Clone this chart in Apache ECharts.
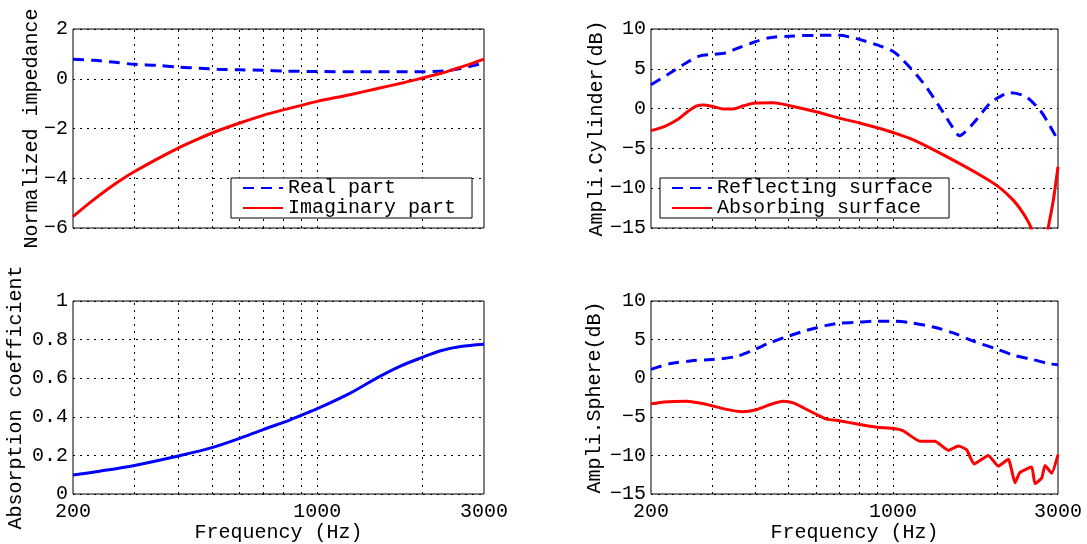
<!DOCTYPE html>
<html>
<head>
<meta charset="utf-8">
<script src="https://cdn.jsdelivr.net/npm/echarts@6/dist/echarts.min.js"></script>
<style>
  html, body { margin: 0; padding: 0; background: #fff; }
  #chart { width: 1087px; height: 544px; }
</style>
</head>
<body>
<div id="chart"></div>
<script>
// vertical grid lines (Hz)
const gridFreqs = [300, 400, 500, 600, 700, 800, 900, 1000, 2000];

// top left: normalized impedance
const realFreq = [200, 230, 260, 300, 347, 400, 462, 519, 600, 700, 800, 1000, 1300, 1600, 2000, 2300, 2550, 2800, 3000];
const realVal = [0.78, 0.74, 0.67, 0.58, 0.54, 0.47, 0.42, 0.38, 0.36, 0.34, 0.31, 0.29, 0.28, 0.28, 0.28, 0.31, 0.40, 0.53, 0.64];
const imagFreq = [200, 225, 250, 275, 300, 350, 400, 450, 500, 600, 700, 800, 900, 1000, 1250, 1500, 1750, 2000, 2250, 2500, 2750, 3000];
const imagVal = [-5.54, -4.95, -4.46, -4.06, -3.73, -3.21, -2.79, -2.46, -2.18, -1.78, -1.47, -1.25, -1.07, -0.91, -0.63, -0.38, -0.17, 0.03, 0.21, 0.41, 0.60, 0.79];

// top right: cylinder amplitude (dB)
const cylReflFreq = [200, 226, 252, 276, 300, 330, 352, 400, 440, 500, 600, 700, 750, 800, 900, 1000, 1070, 1225, 1384, 1480, 1560, 1620, 1708, 1908, 2000, 2180, 2420, 2660, 2820, 3000];
const cylReflVal = [3.0, 4.4, 5.7, 6.6, 6.8, 7.0, 7.5, 8.4, 8.9, 9.1, 9.2, 9.2, 9.0, 8.7, 8.0, 7.2, 6.1, 3.2, -0.2, -2.2, -3.4, -2.9, -1.85, 0.67, 1.3, 2.0, 1.5, -0.2, -1.9, -4.0];
const cylAbsFreq = [200, 220, 240, 255, 270, 283, 300, 325, 345, 370, 400, 450, 500, 600, 700, 800, 918, 1000, 1146, 1430, 1785, 2017, 2227, 2381, 2460, 2518, 2600, 2700, 2810, 2908, 3000];
const cylAbsVal = [-2.77, -2.2, -1.3, -0.4, 0.3, 0.45, 0.3, -0.05, -0.05, 0.35, 0.7, 0.75, 0.4, -0.4, -1.2, -1.8, -2.5, -3.0, -3.94, -6.04, -8.34, -9.8, -11.5, -13.15, -14.2, -15.2, -19, -19, -15, -11.5, -7.3];

// bottom left: absorption coefficient
const absFreq = [200, 238, 300, 400, 500, 600, 700, 800, 900, 1000, 1243, 1483, 1730, 2000, 2254, 2571, 3000];
const absVal = [0.098, 0.118, 0.148, 0.197, 0.240, 0.288, 0.334, 0.371, 0.408, 0.442, 0.523, 0.602, 0.663, 0.708, 0.742, 0.764, 0.776];

// bottom right: sphere amplitude (dB)
const sphReflFreq = [200, 226, 266, 300, 354, 400, 442, 500, 564, 644, 700, 800, 900, 1000, 1120, 1308, 1493, 1706, 2000, 2225, 2541, 2838, 3000];
const sphReflVal = [1.15, 1.86, 2.28, 2.41, 2.83, 3.76, 4.6, 5.45, 6.2, 6.84, 7.13, 7.26, 7.39, 7.39, 7.2, 6.63, 5.87, 4.81, 3.76, 3.0, 2.41, 1.86, 1.74];
const sphAbsFreq = [200, 218, 254, 284, 331, 366, 400, 442, 483, 516, 551, 600, 644, 700, 803, 850, 900, 1014, 1072, 1198, 1323, 1446, 1546, 1634, 1716, 1887, 2017, 2155, 2253, 2330, 2518, 2574, 2692, 2752, 2876, 3000];
const sphAbsVal = [-3.32, -3.07, -2.99, -3.32, -4.04, -4.33, -4.12, -3.41, -2.99, -3.2, -3.83, -4.67, -5.3, -5.51, -6.0, -6.2, -6.36, -6.55, -6.83, -8.17, -8.17, -9.35, -8.78, -9.27, -11.1, -10.0, -11.39, -10.49, -13.54, -12.2, -11.51, -13.66, -12.93, -11.3, -12.3, -9.9];

const FONT = "'Liberation Mono', 'DejaVu Sans Mono', monospace";
const BLUE = '#0000ff';
const RED = '#ff0000';
const DOTS = [2, 5];

function pairs(xs, ys) {
  return xs.map((x, i) => [x, ys[i]]);
}

function minusFmt(v) {
  const s = String(Math.round(v * 1000) / 1000);
  return v < 0 ? '\u2212' + s.slice(1) : s;
}

function xAxis(gridIndex, showLabels) {
  return {
    type: 'log',
    logBase: 10,
    gridIndex: gridIndex,
    min: 200,
    max: 3000,
    name: showLabels ? 'Frequency (Hz)' : '',
    nameLocation: 'middle',
    nameGap: 29,
    nameTextStyle: { color: '#000', fontFamily: FONT, fontSize: 20 },
    axisLine: { show: false },
    axisTick: { show: false },
    splitLine: { show: false },
    axisLabel: {
      show: showLabels,
      margin: 8,
      color: '#000',
      fontFamily: FONT,
      fontSize: 20,
      showMinLabel: true,
      showMaxLabel: true,
      formatter: v => String(Math.round(v))
    }
  };
}

function yAxis(gridIndex, min, max, interval, name, gap) {
  return {
    type: 'value',
    gridIndex: gridIndex,
    min: min,
    max: max,
    interval: interval,
    name: name,
    nameLocation: 'middle',
    nameRotate: 90,
    nameGap: gap,
    nameMoveOverlap: false,
    nameTextStyle: { color: '#000', fontFamily: FONT, fontSize: 20 },
    axisLine: { show: false },
    axisTick: { show: false },
    axisLabel: { margin: 5, color: '#000', fontFamily: FONT, fontSize: 20, formatter: minusFmt },
    splitLine: { show: true, lineStyle: { color: '#000', width: 1, type: DOTS } }
  };
}

// dotted vertical grid at each frequency, drawn under the curves
const freqGrid = {
  silent: true,
  z: 1,
  symbol: ['none', 'none'],
  label: { show: false },
  emphasis: { disabled: true },
  lineStyle: { color: '#000', width: 1, type: DOTS },
  data: gridFreqs.map(f => ({ xAxis: f }))
};

function curve(idx, name, xs, ys, color, dashed, smooth, withGrid) {
  const s = {
    type: 'line',
    name: name,
    xAxisIndex: idx,
    yAxisIndex: idx,
    data: pairs(xs, ys),
    showSymbol: false,
    symbol: 'none',
    smooth: smooth,
    z: 3,
    lineStyle: { color: color, width: 3, type: dashed ? [11, 7] : 'solid' },
    itemStyle: { color: color }
  };
  if (withGrid) s.markLine = freqGrid;
  return s;
}

function legend(left, names) {
  return {
    data: names,
    left: left,
    top: 178,
    orient: 'vertical',
    itemWidth: 40,
    itemHeight: 12,
    itemGap: 0,
    padding: [0, 16, 0, 11],
    backgroundColor: '#fff',
    borderColor: '#000',
    borderWidth: 1,
    borderRadius: 0,
    selectedMode: false,
    itemStyle: { opacity: 0 },
    textStyle: { color: '#000', fontFamily: FONT, fontSize: 20 }
  };
}

const chart = echarts.init(document.getElementById('chart'));
chart.setOption({
  animation: false,
  backgroundColor: '#fff',
  grid: [
    { left: 73, top: 29, width: 411, height: 199, show: true, borderColor: '#000', borderWidth: 1, backgroundColor: '#fff' },
    { left: 651, top: 29, width: 407, height: 199, show: true, borderColor: '#000', borderWidth: 1, backgroundColor: '#fff' },
    { left: 73, top: 301, width: 411, height: 197, show: true, borderColor: '#000', borderWidth: 1, backgroundColor: '#fff' },
    { left: 651, top: 301, width: 407, height: 197, show: true, borderColor: '#000', borderWidth: 1, backgroundColor: '#fff' }
  ],
  xAxis: [xAxis(0, false), xAxis(1, false), xAxis(2, true), xAxis(3, true)],
  yAxis: [
    yAxis(0, -6, 2, 2, 'Normalized impedance', 31),
    yAxis(1, -15, 10, 5, 'Ampli.Cylinder(dB)', 44),
    yAxis(2, 0, 1, 0.2, 'Absorption coefficient', 47),
    yAxis(3, -15, 10, 5, 'Ampli.Sphere(dB)', 46)
  ],
  legend: [
    legend(231, ['Real part', 'Imaginary part']),
    legend(660, ['Reflecting surface', 'Absorbing surface'])
  ],
  series: [
    curve(0, 'Real part', realFreq, realVal, BLUE, true, 0.3, true),
    curve(0, 'Imaginary part', imagFreq, imagVal, RED, false, 0.3, false),
    curve(1, 'Reflecting surface', cylReflFreq, cylReflVal, BLUE, true, 0.3, true),
    curve(1, 'Absorbing surface', cylAbsFreq, cylAbsVal, RED, false, 0.3, false),
    curve(2, 'Absorption', absFreq, absVal, BLUE, false, 0.3, true),
    curve(3, 'Sphere reflecting', sphReflFreq, sphReflVal, BLUE, true, 0.3, true),
    curve(3, 'Sphere absorbing', sphAbsFreq, sphAbsVal, RED, false, 0.15, false)
  ]
});
</script>
</body>
</html>
